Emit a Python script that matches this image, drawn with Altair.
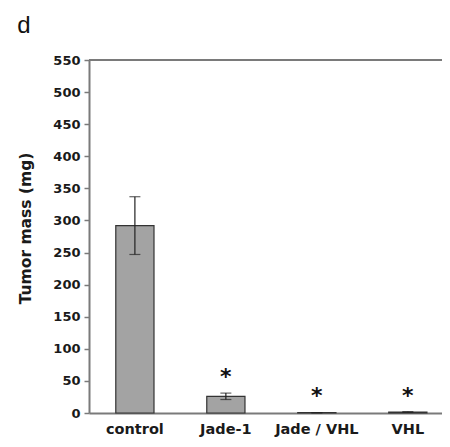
import altair as alt
import pandas as pd

categories = ["control", "Jade-1", "Jade / VHL", "VHL"]
means = [292, 26, 0.5, 1.5]
errors = [45, 5, 0, 0.5]
star_positions = [None, 67, 37, 37]

df = pd.DataFrame({
    "group": categories,
    "mass": means,
    "lo": [m - e for m, e in zip(means, errors)],
    "hi": [m + e for m, e in zip(means, errors)],
    "star": star_positions,
})

FONT = "DejaVu Sans"
AXC = "#7a7a7a"

xscale = alt.Scale(paddingInner=0.58, paddingOuter=0.23, align=0.64)
xaxis = alt.Axis(title=None, labelAngle=0, ticks=False, labelPadding=9,
                 labelFont=FONT, labelFontSize=14.5, labelFontWeight="bold",
                 labelColor="#1a1a1a", domainColor=AXC, domainWidth=2)
yscale = alt.Scale(domain=[0, 550], nice=False, zero=True)
yaxis = alt.Axis(title="Tumor mass (mg)", values=list(range(0, 551, 50)), labelOverlap=False,
                 titleFont=FONT, titleFontSize=15.5, titleFontWeight="bold", titleColor="#1a1a1a",
                 titleX=-64, titleY=168, titleAngle=-90, titleAlign="center", titleBaseline="middle",
                 labelFont=FONT, labelFontSize=13, labelFontWeight="bold", labelColor="#1a1a1a",
                 labelPadding=4, tickSize=5, tickColor=AXC, tickWidth=1.5,
                 domainColor=AXC, domainWidth=2, grid=False)

X = alt.X("group:N", sort=categories, scale=xscale, axis=xaxis)

def Y(field):
    return alt.Y(field, type="quantitative", scale=yscale, axis=yaxis)

base = alt.Chart(df)

bars = base.mark_bar(color="#a3a3a3", stroke="#333333", strokeWidth=1.2).encode(
    x=X, y=Y("mass"))

err_rule = base.mark_rule(color="#222222", strokeWidth=1.2).encode(
    x=X, y=Y("lo"), y2="hi:Q")
cap_hi = base.mark_tick(color="#222222", thickness=1.2, size=11, orient="horizontal").encode(
    x=X, y=Y("hi"))
cap_lo = base.mark_tick(color="#222222", thickness=1.2, size=11, orient="horizontal").encode(
    x=X, y=Y("lo"))

stars = base.transform_filter("isValid(datum.star)").mark_text(
    text="*", font=FONT, fontSize=22, fontWeight="bold", color="#111111",
    baseline="middle", dy=7).encode(
    x=X, y=Y("star"))

top_rule = alt.Chart(pd.DataFrame({"v": [550]})).mark_rule(
    color=AXC, strokeWidth=2).encode(y=Y("v"))

panel = alt.Chart(pd.DataFrame({"t": ["d"]})).mark_text(
    font="Liberation Sans", fontSize=24, color="#111111", align="center", baseline="middle").encode(
    text="t:N", x=alt.value(-65), y=alt.value(-34))

chart = alt.layer(bars, err_rule, cap_hi, cap_lo, stars, top_rule, panel).properties(
    width=353, height=353,
    autosize=alt.AutoSizeParams(type="none"),
    padding={"left": 81, "top": 52, "right": 0, "bottom": 25},
    background="white",
).configure_view(stroke=None)

chart.save("out.html", embed_options={"renderer": "svg", "actions": False})
